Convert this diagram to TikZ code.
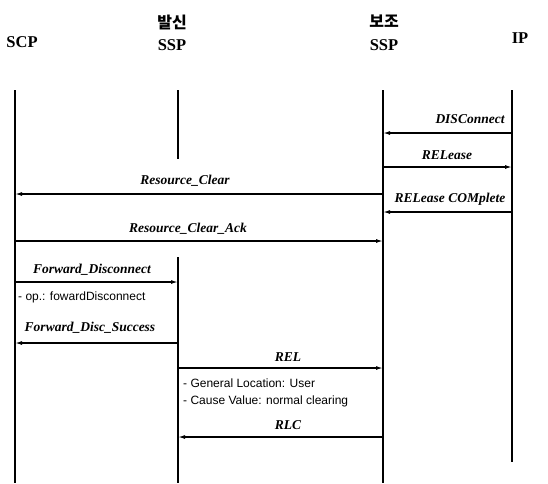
\documentclass[tikz,border=0pt]{standalone}
\usepackage{fontspec}
\setmainfont{Liberation Serif}
\setsansfont{Liberation Sans}
\newfontfamily\krfont{Noto Sans CJK KR}
\usetikzlibrary{arrows.meta}
\begin{document}
\begin{tikzpicture}[x=1pt,y=-1pt,
  life/.style={line width=1.5pt},
  msg/.style={line width=1.3pt,-{Latex[length=7pt,width=4pt]}},
  hdr/.style={font=\fontsize{16.5}{18}\selectfont\bfseries, inner sep=0pt, align=center},
  kr/.style={font=\fontsize{16}{18}\krfont\bfseries, inner sep=0pt},
  lbl/.style={font=\fontsize{13.5}{15}\selectfont\bfseries\itshape, inner sep=0pt},
  note/.style={font=\fontsize{12}{14}\sffamily, inner sep=0pt, anchor=west}]
\useasboundingbox (0,0) rectangle (548,483);
% headers
\node[hdr] (hscp) at (22,42) {SCP};
\node[kr] (hosk) at (172,22) {발신};
\node[hdr] (hos) at (172,45) {SSP};
\node[kr] (hask) at (384,21) {보조};
\node[hdr] (has) at (384,45) {SSP};
\node[hdr] (hip) at (520,38) {IP};
% lifeline coordinates
\coordinate (scpT) at (15,90);  \coordinate (scpB) at (15,483);
\coordinate (osT) at (178,90);  \coordinate (osM) at (178,159);
\coordinate (osN) at (178,257); \coordinate (osB) at (178,483);
\coordinate (asT) at (383,90);  \coordinate (asB) at (383,483);
\coordinate (ipT) at (512,90);  \coordinate (ipB) at (512,462);
\draw[life] (scpT) -- (scpB);
\draw[life] (osT) -- (osM);
\draw[life] (osN) -- (osB);
\draw[life] (asT) -- (asB);
\draw[life] (ipT) -- (ipB);
% message end points
\coordinate (ip1) at (512,133); \coordinate (as1) at (383,133);
\coordinate (as2) at (383,167); \coordinate (ip2) at (512,167);
\coordinate (as3) at (383,194); \coordinate (scp3) at (15,194);
\coordinate (ip4) at (512,212); \coordinate (as4) at (383,212);
\coordinate (scp5) at (15,241); \coordinate (as5) at (383,241);
\coordinate (scp6) at (15,282); \coordinate (os6) at (178,282);
\coordinate (os7) at (178,343); \coordinate (scp7) at (15,343);
\coordinate (os8) at (178,368); \coordinate (as8) at (383,368);
\coordinate (as9) at (383,437); \coordinate (os9) at (178,437);
% messages
\draw[msg] (ip1) -- (as1);
\node[lbl] (l1) at (470,119) {DISConnect};
\draw[msg] (as2) -- (ip2);
\node[lbl] (l2) at (447,155) {RELease};
\draw[msg] (as3) -- (scp3);
\node[lbl] (l3) at (185,181) {Resource\_Clear};
\draw[msg] (ip4) -- (as4);
\node[lbl] (l4) at (450,199) {RELease COMplete};
\draw[msg] (scp5) -- (as5);
\node[lbl] (l5) at (188,229) {Resource\_Clear\_Ack};
\draw[msg] (scp6) -- (os6);
\node[lbl] (l6) at (92,270) {Forward\_Disconnect};
\node[note] (n6) at (18,297) {- op.: fowardDisconnect};
\draw[msg] (os7) -- (scp7);
\node[lbl] (l7) at (90,328) {Forward\_Disc\_Success};
\draw[msg] (os8) -- (as8);
\node[lbl] (l8) at (288,357) {REL};
\node[note] (n8a) at (183,383) {- General Location: User};
\node[note] (n8b) at (183,401) {- Cause Value: normal clearing};
\draw[msg] (as9) -- (os9);
\node[lbl] (l9) at (288,425) {RLC};
\end{tikzpicture}
\end{document}
